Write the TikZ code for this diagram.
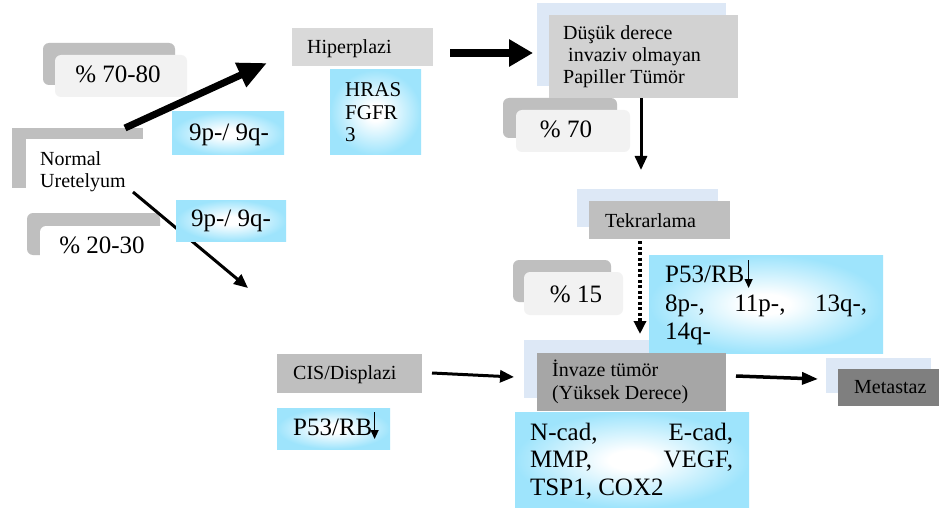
\documentclass[tikz,border=0pt]{standalone}
\usepackage{fontspec}
\setmainfont{Liberation Serif}
\usetikzlibrary{arrows.meta}
\definecolor{lblue}{RGB}{158,228,252}
\definecolor{pale}{RGB}{221,232,246}
\definecolor{gA}{RGB}{191,191,191}
\definecolor{gB}{RGB}{242,242,242}
\definecolor{gC}{RGB}{217,217,217}
\definecolor{gD}{RGB}{210,210,210}
\definecolor{gE}{RGB}{166,166,166}
\definecolor{gF}{RGB}{127,127,127}
\pgfdeclareradialshading{softblue}{\pgfpoint{0bp}{0bp}}{color(0bp)=(white); color(5bp)=(white); color(25bp)=(lblue); color(50bp)=(lblue)}
\tikzset{
  box/.style={draw=none, inner sep=0pt, outer sep=0pt, anchor=north west},
  bluebox/.style={box, shading=softblue},
  pctback/.style={box, fill=gA, rounded corners=6pt},
  pctfront/.style={box, fill=gB, rounded corners=6pt},
  tl/.style={inner sep=0pt, anchor=base west, font=\fontsize{20}{22}\selectfont},
  cl/.style={inner sep=0pt, anchor=base west, font=\fontsize{25}{28}\selectfont},
  clc/.style={inner sep=0pt, anchor=base, font=\fontsize{25}{28}\selectfont},
  bigarrow/.style={line width=7pt, -{Triangle[length=29pt,width=25pt]}},
  arr/.style={line width=3pt, -{Triangle[length=14pt,width=12pt]}},
  glyph/.style={line width=1.2pt, -{Triangle[length=9pt,width=8pt]}}
}
\begin{document}
\begin{tikzpicture}[x=1pt,y=-1pt]
\useasboundingbox[fill=white] (0,0) rectangle (940,508);

% percentage boxes
\node[pctback, minimum width=132pt, minimum height=42pt] (p1b) at (43,43) {};
\node[pctfront, minimum width=132pt, minimum height=42pt] (p1f) at (55,55) {};
\node[clc] (p1t) at (118,83) {\% 70-80};

\node[pctback, minimum width=133pt, minimum height=42pt] (p2b) at (27,213) {};
\node[box, fill=white, rounded corners=6pt, minimum width=133pt, minimum height=42pt] (p2f) at (40,226) {};
\node[clc] (p2t) at (102,253) {\% 20-30};

\node[pctback, minimum width=114pt, minimum height=40pt] (p3b) at (503,98) {};
\node[pctfront, minimum width=114pt, minimum height=42pt] (p3f) at (516,110) {};
\node[clc] (p3t) at (566,138) {\% 70};

\node[pctback, minimum width=98pt, minimum height=42pt] (p4b) at (513,260) {};
\node[pctfront, minimum width=99pt, minimum height=43pt] (p4f) at (524,272) {};
\node[clc] (p4t) at (576,302) {\% 15};

% Normal Uretelyum
\node[box, fill=gA, minimum width=131pt, minimum height=60pt] (nb) at (12,128) {};
\node[box, fill=white, minimum width=131pt, minimum height=61pt] (nf) at (26,139) {};
\node[tl] (nt1) at (40,165) {Normal};
\node[tl] (nt2) at (40,187) {Uretelyum};

% back panel of Invaze (drawn early, lies under the P53 box)
\node[box, fill=pale, minimum width=188pt, minimum height=58pt] (ivb) at (524,340) {};

% arrows
\coordinate (a1s) at (125,128);
\coordinate (a1e) at (267,63);
\draw[bigarrow] (a1s) -- (a1e);
\coordinate (a2s) at (133,192);
\coordinate (a2e) at (248,288);
\draw[arr] (a2s) -- (a2e);
\coordinate (a3s) at (450,53);
\coordinate (a3e) at (533,53);
\draw[line width=8pt, -{Triangle[length=24pt,width=26pt]}] (a3s) -- (a3e);
\coordinate (a4s) at (641,98);
\coordinate (a4e) at (641,170);
\draw[arr] (a4s) -- (a4e);
\coordinate (a5s) at (640,241);
\coordinate (a5e) at (640,334);
\draw[line width=3.5pt, dash pattern=on 3pt off 2.5pt, -{Triangle[length=13pt,width=12pt]}] (a5s) -- (a5e);
\coordinate (a6s) at (432,373);
\coordinate (a6e) at (514,377);
\draw[arr] (a6s) -- (a6e);
\coordinate (a7s) at (736,376);
\coordinate (a7e) at (818,379);
\draw[line width=3.5pt, -{Triangle[length=16pt,width=12pt]}] (a7s) -- (a7e);

% blue boxes 9p/9q
\node[bluebox, minimum width=112pt, minimum height=43pt] (b9a) at (172,112) {};
\node[clc] (b9at) at (229,141) {9p-/ 9q-};
\node[bluebox, minimum width=110pt, minimum height=41pt] (b9b) at (176,200) {};
\node[clc] (b9bt) at (231,226) {9p-/ 9q-};

% Hiperplazi
\node[box, fill=gC, minimum width=141pt, minimum height=38pt] (hip) at (292,28) {};
\node[tl] (hipt) at (307,54) {Hiperplazi};
\node[bluebox, minimum width=91pt, minimum height=85pt] (hras) at (330,70) {};
\node[inner sep=0pt, anchor=base west, font=\fontsize{21}{22}\selectfont] (hr1) at (345,97) {HRAS};
\node[inner sep=0pt, anchor=base west, font=\fontsize{21}{22}\selectfont] (hr2) at (345,120) {FGFR};
\node[inner sep=0pt, anchor=base west, font=\fontsize{21}{22}\selectfont] (hr3) at (345,142) {3};

% Dusuk derece
\node[box, fill=pale, minimum width=189pt, minimum height=83pt] (dub) at (537,3) {};
\node[box, fill=gD, minimum width=189pt, minimum height=83pt] (duf) at (549,15) {};
\node[tl] (du1) at (563,40) {Düşük derece};
\node[tl] (du2) at (568,62) {invaziv olmayan};
\node[tl] (du3) at (563,84) {Papiller Tümör};

% Tekrarlama
\node[box, fill=pale, minimum width=141pt, minimum height=38pt] (tkb) at (577,189) {};
\node[box, fill=gA, minimum width=141pt, minimum height=38pt] (tkf) at (589,201) {};
\node[tl] (tkt) at (605,227) {Tekrarlama};

% P53/RB upper
\node[bluebox, minimum width=234pt, minimum height=98pt] (p53a) at (649,255) {};
\node[cl] (pa1) at (665,282) {P53/RB};
\draw[glyph] ([xshift=4pt,yshift=22pt]pa1.base east) -- ([xshift=4pt,yshift=-6pt]pa1.base east);
\node[cl] (pa2) at (665,311) {\makebox[202pt][s]{8p-, 11p-, 13q-,}};
\node[cl] (pa3) at (665,339) {14q-};

% Invaze tumor
\node[box, fill=gE, minimum width=189pt, minimum height=58pt] (ivf) at (537,353) {};
\node[tl] (iv1) at (552,376) {İnvaze tümör};
\node[tl] (iv2) at (552,399) {(Yüksek Derece)};

% N-cad box
\node[bluebox, minimum width=234pt, minimum height=96pt] (ncad) at (515,412) {};
\node[cl] (nc1) at (530,440) {\makebox[203pt][s]{N-cad, E-cad,}};
\node[cl] (nc2) at (530,467) {\makebox[203pt][s]{MMP, VEGF,}};
\node[cl] (nc3) at (530,495) {TSP1, COX2};

% Metastaz
\node[box, fill=pale, minimum width=105pt, minimum height=35pt] (mtb) at (826,358) {};
\node[box, fill=gF, minimum width=101pt, minimum height=37pt] (mtf) at (838,369) {};
\node[tl] (mtt) at (854,393) {Metastaz};

% CIS
\node[box, fill=gA, minimum width=145pt, minimum height=39pt] (cis) at (277,354) {};
\node[tl] (cist) at (293,379) {CIS/Displazi};
\node[bluebox, minimum width=113pt, minimum height=41pt] (p53b) at (277,408) {};
\node[cl] (pb1) at (293,435) {P53/RB};
\draw[glyph] ([xshift=2pt,yshift=23pt]pb1.base east) -- ([xshift=2pt,yshift=-4pt]pb1.base east);
\end{tikzpicture}
\end{document}
